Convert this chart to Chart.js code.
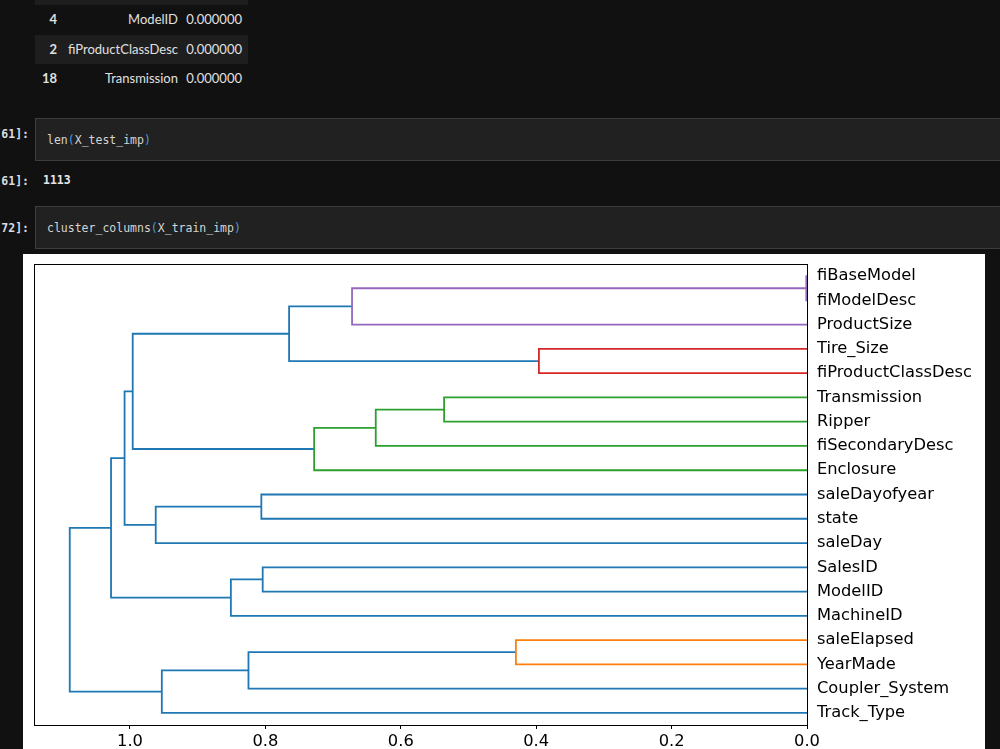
<!DOCTYPE html>
<html lang="en">
<head>
<meta charset="UTF-8">
<title>cluster_columns</title>
<script src="https://cdn.jsdelivr.net/npm/chart.js"></script>
<style>
    body { margin: 0; background: #111111; width: 1000px; height: 749px; overflow: hidden; position: relative; font-family: Lato, "Open Sans", sans-serif; }
    .row { position: absolute; left: 35px; width: 213px; height: 29px; color: #e0e0e0; font-size: 13px; }
    .row.alt { background: #1e1e1e; }
    .row span { position: absolute; top: 0; line-height: 29px; }
    .idx { right: 191px; font-weight: bold; }
    .nome { right: 70px; }
    .val { right: 6px; }
    .prompt { position: absolute; right: 971px; font-family: "DejaVu Sans Mono", monospace; font-size: 11.5px; font-weight: bold; color: #d8dde2; white-space: pre; }
    .caixa { position: absolute; left: 35px; width: 980px; height: 41px; background: #212121; border: 1px solid #3d3d3d; }
    .codigo { position: absolute; left: 11px; top: 0; line-height: 43px; font-family: "DejaVu Sans Mono", monospace; font-size: 11.5px; color: #d4d4d4; white-space: pre; }
    .par { color: #4a9be0; }
    .saida { position: absolute; left: 43px; top: 173px; font-family: "DejaVu Sans Mono", monospace; font-size: 11.5px; font-weight: bold; color: #e6e6e6; }
    .figura { position: absolute; left: 23px; top: 254px; width: 962px; height: 510px; background: #ffffff; }
</style>
</head>
<body>

    <div class="row alt" style="top: -24px;"></div>
    <div class="row" style="top: 5px;"><span class="idx">4</span><span class="nome">ModelID</span><span class="val">0.000000</span></div>
    <div class="row alt" style="top: 35px;"><span class="idx">2</span><span class="nome">fiProductClassDesc</span><span class="val">0.000000</span></div>
    <div class="row" style="top: 64px;"><span class="idx">18</span><span class="nome">Transmission</span><span class="val">0.000000</span></div>

    <div class="prompt" style="top: 127px;">In [61]:</div>
    <div class="caixa" style="top: 118px;"><div class="codigo">len<span class="par">(</span>X_test_imp<span class="par">)</span></div></div>

    <div class="prompt" style="top: 174px;">Out[61]:</div>
    <div class="saida">1113</div>

    <div class="prompt" style="top: 221px;">In [72]:</div>
    <div class="caixa" style="top: 206px;"><div class="codigo">cluster_columns<span class="par">(</span>X_train_imp<span class="par">)</span></div></div>

    <div class="figura">
        <canvas id="myChart"></canvas>
    </div>

<script>
    // folhas de cima para baixo
    var folhas = ['fiBaseModel', 'fiModelDesc', 'ProductSize', 'Tire_Size', 'fiProductClassDesc',
        'Transmission', 'Ripper', 'fiSecondaryDesc', 'Enclosure', 'saleDayofyear', 'state',
        'saleDay', 'SalesID', 'ModelID', 'MachineID', 'saleElapsed', 'YearMade',
        'Coupler_System', 'Track_Type'];

    // cada fusao: filho esquerdo, filho direito, altura (nos >= 19 sao fusoes anteriores)
    var filhoA = [0, 19, 3, 20, 5, 23, 24, 22, 9, 27, 26, 12, 30, 29, 15, 33, 34, 32];
    var filhoB = [1, 2, 4, 21, 6, 7, 8, 25, 10, 11, 28, 13, 14, 31, 16, 17, 18, 35];
    var alturas = [0.001, 0.672, 0.396, 0.765, 0.536, 0.637, 0.728, 0.996, 0.806, 0.962,
        1.008, 0.804, 0.851, 1.028, 0.430, 0.825, 0.953, 1.089];
    var cores = ['#9467bd', '#9467bd', '#d62728', '#1f77b4', '#2ca02c', '#2ca02c', '#2ca02c',
        '#1f77b4', '#1f77b4', '#1f77b4', '#1f77b4', '#1f77b4', '#1f77b4', '#1f77b4',
        '#ff7f0e', '#1f77b4', '#1f77b4', '#1f77b4'];

    var ticksX = [0.0, 0.2, 0.4, 0.6, 0.8, 1.0];

    var n = folhas.length;
    var posY = [];
    var posX = [];
    for (var i = 0; i < n; i++) {
        posY.push(10 * (n - 1 - i) + 5);
        posX.push(0);
    }

    var datasets = [];
    for (var k = 0; k < alturas.length; k++) {
        var a = filhoA[k], b = filhoB[k], h = alturas[k];
        datasets.push({
            data: [
                { x: posX[a], y: posY[a] },
                { x: h, y: posY[a] },
                { x: h, y: posY[b] },
                { x: posX[b], y: posY[b] }
            ],
            showLine: true,
            borderColor: cores[k],
            borderWidth: 1.8,
            pointRadius: 0,
            fill: false
        });
        posY.push((posY[a] + posY[b]) / 2);
        posX.push(h);
    }

    var fonte = { family: 'DejaVu Sans', size: 16.3 };

    var caixa = {
        id: 'caixa',
        afterDraw: function (chart) {
            var c = chart.ctx, ar = chart.chartArea;
            c.save();
            c.strokeStyle = '#000000';
            c.lineWidth = 1;
            c.strokeRect(Math.round(ar.left) + 0.5, Math.round(ar.top) + 0.5,
                Math.round(ar.right - ar.left), Math.round(ar.bottom - ar.top));
            c.restore();
        }
    };

    new Chart(document.getElementById('myChart'), {
        type: 'scatter',
        data: { datasets: datasets },
        options: {
            responsive: true,
            maintainAspectRatio: false,
            animation: false,
            layout: { padding: { left: 11, top: 10, right: 0, bottom: 0 } },
            plugins: { legend: { display: false }, tooltip: { enabled: false } },
            scales: {
                x: {
                    type: 'linear',
                    reverse: true,
                    min: 0,
                    max: 1.1418,
                    afterBuildTicks: function (s) { s.ticks = ticksX.map(function (v) { return { value: v }; }); },
                    afterFit: function (s) { s.height = 39; s.paddingLeft = 0; s.paddingRight = 0; },
                    grid: { display: true, drawOnChartArea: false, drawTicks: true, tickLength: 4, tickColor: '#000000', color: '#000000' },
                    border: { display: false },
                    ticks: { color: '#000000', font: fonte, padding: 3, maxRotation: 0,
                        callback: function (v) { return Number(v).toFixed(1); } }
                },
                y: {
                    type: 'linear',
                    position: 'right',
                    min: 0,
                    max: 10 * n,
                    afterBuildTicks: function (s) {
                        s.ticks = folhas.map(function (f, i) { return { value: 10 * (n - 1 - i) + 5 }; });
                    },
                    afterFit: function (s) { s.width = 178; s.paddingTop = 0; s.paddingBottom = 0; },
                    grid: { display: false, drawTicks: false },
                    border: { display: false },
                    ticks: { color: '#000000', font: fonte, padding: 10, autoSkip: false,
                        callback: function (v) { return folhas[n - 1 - (v - 5) / 10]; } }
                }
            }
        },
        plugins: [caixa]
    });
</script>
</body>
</html>
